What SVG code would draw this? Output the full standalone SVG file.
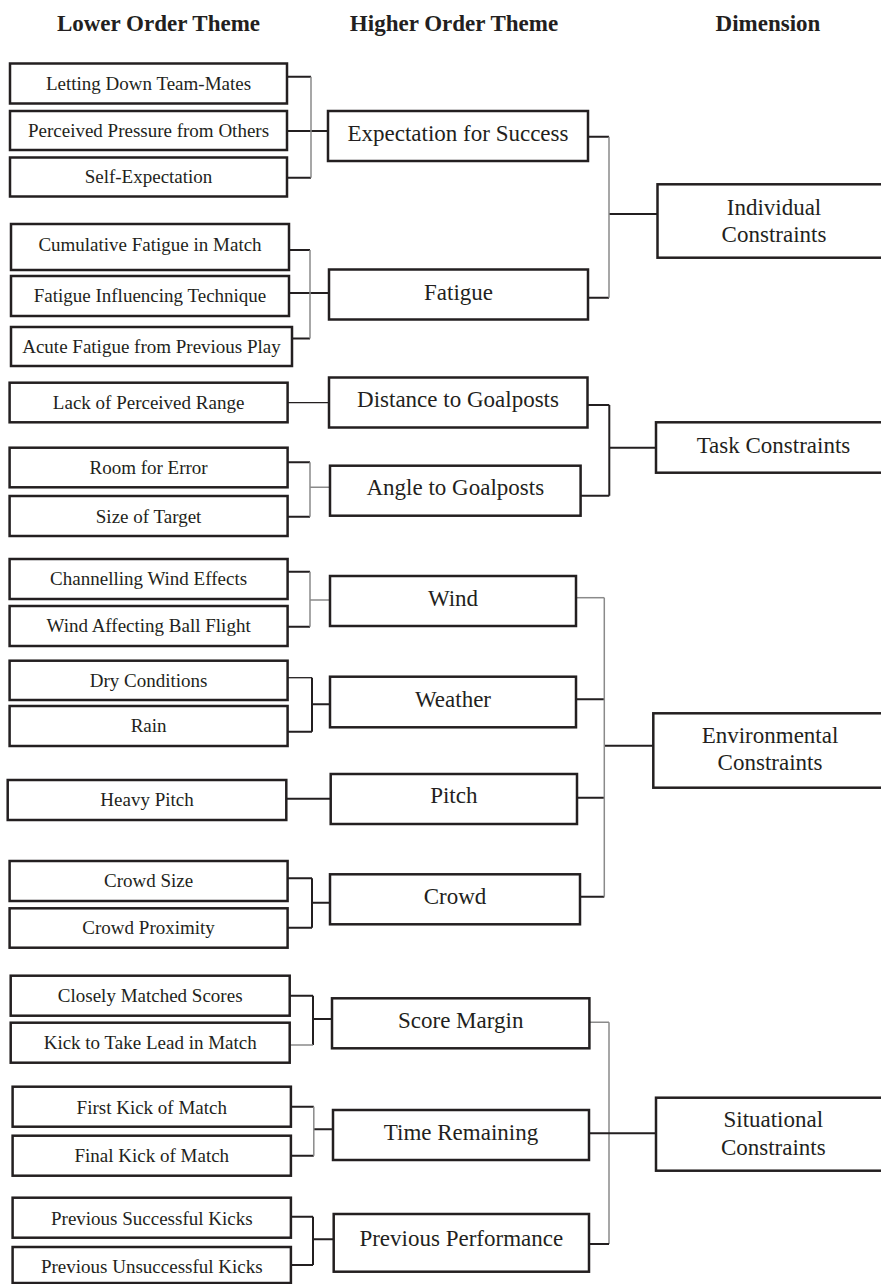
<svg xmlns="http://www.w3.org/2000/svg" width="881" height="1284" viewBox="0 0 881 1284">
<style>
rect{fill:#fff;stroke:#231f20;stroke-width:2.5}
text{font-family:"Liberation Serif","Times New Roman",serif;fill:#231f20;text-anchor:middle}
.hd{font-size:23px;font-weight:bold}
.lo{font-size:19px}
.hi{font-size:23px}
.dm{font-size:23px}
.k{stroke:#231f20;stroke-width:2;fill:none}
.t{stroke:#231f20;stroke-width:1.3;fill:none}
.g{stroke:#8a8a8a;stroke-width:1.5;fill:none}
</style>
<rect x="0" y="0" width="881" height="1284" style="fill:#fff;stroke:none"/>
<g id="headers">
<text class="hd" x="158.5" y="31">Lower Order Theme</text>
<text class="hd" x="454" y="31">Higher Order Theme</text>
<text class="hd" x="768" y="31">Dimension</text>
</g>
<g id="connectors">
<!-- Expectation -->
<path class="k" d="M287 76.7H311M287 177.7H311M287 131H328"/>
<path class="g" d="M311 76.7V177.7"/>
<!-- Fatigue -->
<path class="k" d="M289 250H310M292 338.5H310M289 293H329"/>
<path class="g" d="M310 250V338.5"/>
<!-- Individual -->
<path class="k" d="M588 136.7H609M588 297.7H609M609 214H657"/>
<path class="g" d="M609 136.7V297.7"/>
<!-- Distance -->
<path class="t" d="M288 402.7H329"/>
<!-- Angle -->
<path class="k" d="M288 462.3H310M288 516.7H310"/>
<path class="g" d="M310 462.3V516.7M310 487.3H330"/>
<!-- Task -->
<path class="k" d="M587.5 405H609.3M580.6 495.7H609.3M609.3 405V495.7M609.3 447.7H656"/>
<!-- Wind -->
<path class="k" d="M288 571.7H310M288 626.7H310"/>
<path class="g" d="M310 571.7V626.7M310 600H330"/>
<!-- Weather -->
<path class="t" d="M288 677.7H312"/>
<path class="k" d="M288 731.7H312M312 677.7V731.7M312 704.3H330"/>
<!-- Pitch -->
<path class="k" d="M286.3 798.7H330.7"/>
<!-- Crowd -->
<path class="k" d="M288 878.3H312M288 927.7H312M312 878.3V927.7M312 902.7H330"/>
<!-- Environmental -->
<path class="g" d="M576 597.7H604.3"/>
<path class="k" d="M576 699.3H605M577 797.7H604.3M580 896.7H604.3M604.3 745.7H653.3"/>
<path class="g" d="M604.3 597.7V896.7"/>
<!-- Score Margin -->
<path class="k" d="M290 995.7H313M313 995.7V1045M313 1019H332"/>
<path class="g" d="M290 1045H313"/>
<!-- Time Remaining -->
<path class="k" d="M291 1106.7H313.8M291 1155.7H313.8M313.8 1129.3H333"/>
<path class="g" d="M313.8 1106.7V1155.7"/>
<!-- Previous Performance -->
<path class="k" d="M291 1216.7H313M291 1265H313M313 1216.7V1265M313 1239.3H333.7"/>
<!-- Situational -->
<path class="g" d="M589.4 1022.3H609M609 1022.3V1244"/>
<path class="k" d="M589 1244H609M589 1133.3H656"/>
</g>
<g id="n-letting"><rect x="10" y="63.5" width="277" height="40"/><text class="lo" x="148.5" y="90">Letting Down Team-Mates</text></g>
<g id="n-perceived"><rect x="10" y="111" width="277" height="39"/><text class="lo" x="148.5" y="137">Perceived Pressure from Others</text></g>
<g id="n-self"><rect x="10" y="157.5" width="277" height="39"/><text class="lo" x="148.5" y="183">Self-Expectation</text></g>
<g id="n-cumulative"><rect x="11" y="224" width="278" height="46"/><text class="lo" x="150" y="251">Cumulative Fatigue in Match</text></g>
<g id="n-fatigue-tech"><rect x="11" y="276" width="278" height="40"/><text class="lo" x="150" y="302">Fatigue Influencing Technique</text></g>
<g id="n-acute"><rect x="11" y="327" width="281" height="39"/><text class="lo" x="151.5" y="353">Acute Fatigue from Previous Play</text></g>
<g id="n-lack"><rect x="9.6" y="382.7" width="278" height="39.6"/><text class="lo" x="148.6" y="408.5">Lack of Perceived Range</text></g>
<g id="n-room"><rect x="9.6" y="447.7" width="278" height="39.6"/><text class="lo" x="148.6" y="474">Room for Error</text></g>
<g id="n-size"><rect x="9.6" y="496" width="278" height="40"/><text class="lo" x="148.6" y="522.5">Size of Target</text></g>
<g id="n-channelling"><rect x="9.6" y="559" width="278" height="40"/><text class="lo" x="148.6" y="585">Channelling Wind Effects</text></g>
<g id="n-wind-ball"><rect x="9.6" y="606" width="278" height="40"/><text class="lo" x="148.6" y="631.7">Wind Affecting Ball Flight</text></g>
<g id="n-dry"><rect x="9.6" y="660.7" width="278" height="39.3"/><text class="lo" x="148.6" y="686.7">Dry Conditions</text></g>
<g id="n-rain"><rect x="9.6" y="706" width="278" height="40"/><text class="lo" x="148.6" y="731.7">Rain</text></g>
<g id="n-heavy"><rect x="7.7" y="780" width="278.6" height="40"/><text class="lo" x="147" y="806">Heavy Pitch</text></g>
<g id="n-crowd-size"><rect x="9.6" y="861" width="278" height="40"/><text class="lo" x="148.6" y="886.7">Crowd Size</text></g>
<g id="n-crowd-prox"><rect x="9.6" y="908.3" width="278" height="39.4"/><text class="lo" x="148.6" y="934">Crowd Proximity</text></g>
<g id="n-closely"><rect x="10.7" y="975.7" width="279" height="40"/><text class="lo" x="150.2" y="1002.3">Closely Matched Scores</text></g>
<g id="n-kick-lead"><rect x="10.7" y="1022.7" width="279" height="40"/><text class="lo" x="150.2" y="1049">Kick to Take Lead in Match</text></g>
<g id="n-first"><rect x="12.6" y="1086.7" width="278.3" height="40"/><text class="lo" x="151.8" y="1114">First Kick of Match</text></g>
<g id="n-final"><rect x="12.6" y="1135.7" width="278.3" height="40"/><text class="lo" x="151.8" y="1161.7">Final Kick of Match</text></g>
<g id="n-prev-succ"><rect x="12.6" y="1197.7" width="278.3" height="40"/><text class="lo" x="151.8" y="1225">Previous Successful Kicks</text></g>
<g id="n-prev-unsucc"><rect x="12.6" y="1247" width="278.3" height="36"/><text class="lo" x="151.8" y="1272.7">Previous Unsuccessful Kicks</text></g>
<g id="n-expectation"><rect x="328" y="111" width="260" height="50"/><text class="hi" x="458" y="141">Expectation for Success</text></g>
<g id="n-fatigue"><rect x="329" y="269.5" width="259" height="50"/><text class="hi" x="458.5" y="299.5">Fatigue</text></g>
<g id="n-distance"><rect x="329" y="377.5" width="258.5" height="50"/><text class="hi" x="458" y="406.5">Distance to Goalposts</text></g>
<g id="n-angle"><rect x="330" y="465.7" width="250.6" height="50"/><text class="hi" x="455.3" y="494.5">Angle to Goalposts</text></g>
<g id="n-wind"><rect x="330" y="576" width="246" height="50"/><text class="hi" x="453" y="606">Wind</text></g>
<g id="n-weather"><rect x="330" y="676.7" width="246" height="50.6"/><text class="hi" x="453" y="706.7">Weather</text></g>
<g id="n-pitch"><rect x="330.7" y="774" width="246.3" height="50"/><text class="hi" x="453.8" y="803.3">Pitch</text></g>
<g id="n-crowd"><rect x="330" y="874.3" width="250" height="50"/><text class="hi" x="455" y="904.3">Crowd</text></g>
<g id="n-score"><rect x="332" y="998.3" width="257.4" height="50"/><text class="hi" x="460.7" y="1028.3">Score Margin</text></g>
<g id="n-time"><rect x="333" y="1110" width="256" height="50"/><text class="hi" x="461" y="1140">Time Remaining</text></g>
<g id="n-previous"><rect x="333.7" y="1214" width="255.3" height="57.7"/><text class="hi" x="461.3" y="1246">Previous Performance</text></g>
<g id="n-individual"><rect x="657.5" y="184.3" width="240" height="73.4"/><text class="dm" x="774" y="215">Individual</text><text class="dm" x="774" y="241.7">Constraints</text></g>
<g id="n-task"><rect x="656" y="422.3" width="240" height="50.4"/><text class="dm" x="773.5" y="453">Task Constraints</text></g>
<g id="n-environmental"><rect x="653.3" y="713.3" width="240" height="74.4"/><text class="dm" x="770" y="743">Environmental</text><text class="dm" x="770" y="770">Constraints</text></g>
<g id="n-situational"><rect x="656" y="1097.7" width="240" height="73"/><text class="dm" x="773.3" y="1127">Situational</text><text class="dm" x="773.3" y="1155">Constraints</text></g>
</svg>
